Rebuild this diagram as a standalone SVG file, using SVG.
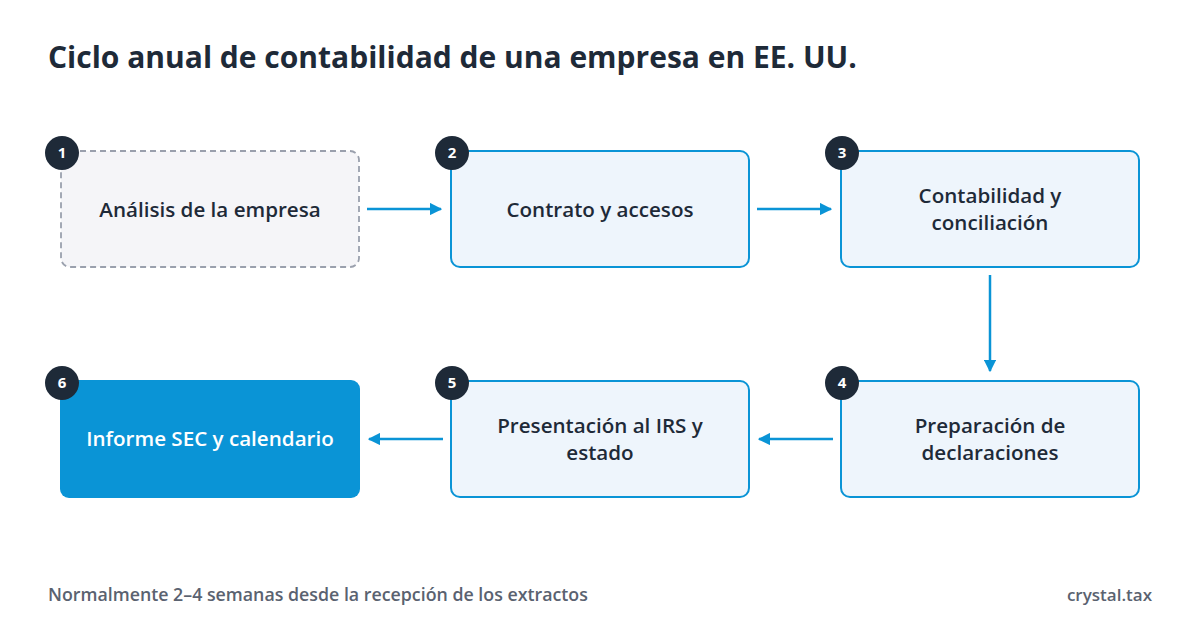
<svg xmlns="http://www.w3.org/2000/svg" width="1200" height="640" viewBox="0 0 1200 640">
<defs>
<marker id="ah" viewBox="0 0 10 10" refX="9" refY="5" markerWidth="5" markerHeight="5" orient="auto"><path d="M0,0 L10,5 L0,10 z" fill="#0a94d6"/></marker>
<style>
text{font-family:"Open Sans","Noto Sans",sans-serif}
.box{fill:#eef5fc;stroke:#0a94d6;stroke-width:2}
.lbl{font-size:20.6px;font-weight:600;fill:#1e2a38;text-anchor:middle}
.badge{fill:#1e2a38}
.bn{font-size:15px;font-weight:700;fill:#fff;text-anchor:middle}
.c{stroke:#0a94d6;stroke-width:2.5;fill:none;marker-end:url(#ah)}
</style>
</defs>
<rect width="1200" height="640" fill="#fff"/>
<text x="48" y="68" font-size="30" font-weight="700" fill="#1e2a38">Ciclo anual de contabilidad de una empresa en EE. UU.</text>
<g id="connectors">
<line class="c" x1="367" y1="209" x2="441" y2="209"/>
<line class="c" x1="757" y1="209" x2="831" y2="209"/>
<line class="c" x1="990" y1="275" x2="990" y2="371"/>
<line class="c" x1="833" y1="439" x2="759" y2="439"/>
<line class="c" x1="443" y1="439" x2="369" y2="439"/>
</g>
<g id="n1"><rect x="61" y="151" width="298" height="116" rx="9" fill="#f5f5f8" stroke="#9aa0ad" stroke-width="1.8" stroke-dasharray="6,4"/><text class="lbl" x="210" y="217">Análisis de la empresa</text><circle class="badge" cx="62" cy="153" r="17"/><text class="bn" x="62" y="158">1</text></g>
<g id="n2"><rect class="box" x="451" y="151" width="298" height="116" rx="9"/><text class="lbl" x="600" y="217">Contrato y accesos</text><circle class="badge" cx="452" cy="153" r="17"/><text class="bn" x="452" y="158">2</text></g>
<g id="n3"><rect class="box" x="841" y="151" width="298" height="116" rx="9"/><text class="lbl" x="990" y="203">Contabilidad y</text><text class="lbl" x="990" y="230">conciliación</text><circle class="badge" cx="842" cy="153" r="17"/><text class="bn" x="842" y="158">3</text></g>
<g id="n4"><rect class="box" x="841" y="381" width="298" height="116" rx="9"/><text class="lbl" x="990" y="433">Preparación de</text><text class="lbl" x="990" y="460">declaraciones</text><circle class="badge" cx="842" cy="383" r="17"/><text class="bn" x="842" y="388">4</text></g>
<g id="n5"><rect class="box" x="451" y="381" width="298" height="116" rx="9"/><text class="lbl" x="600" y="433">Presentación al IRS y</text><text class="lbl" x="600" y="460">estado</text><circle class="badge" cx="452" cy="383" r="17"/><text class="bn" x="452" y="388">5</text></g>
<g id="n6"><rect x="60" y="380" width="300" height="118" rx="9" fill="#0a94d6"/><text class="lbl" x="210" y="446" style="fill:#fff">Informe SEC y calendario</text><circle class="badge" cx="62" cy="383" r="17"/><text class="bn" x="62" y="388">6</text></g>
<text x="48" y="601" font-size="17.8" font-weight="600" fill="#5a6270">Normalmente 2–4 semanas desde la recepción de los extractos</text>
<text x="1152" y="601" font-size="17" font-weight="600" fill="#5a6270" text-anchor="end">crystal.tax</text>
</svg>
